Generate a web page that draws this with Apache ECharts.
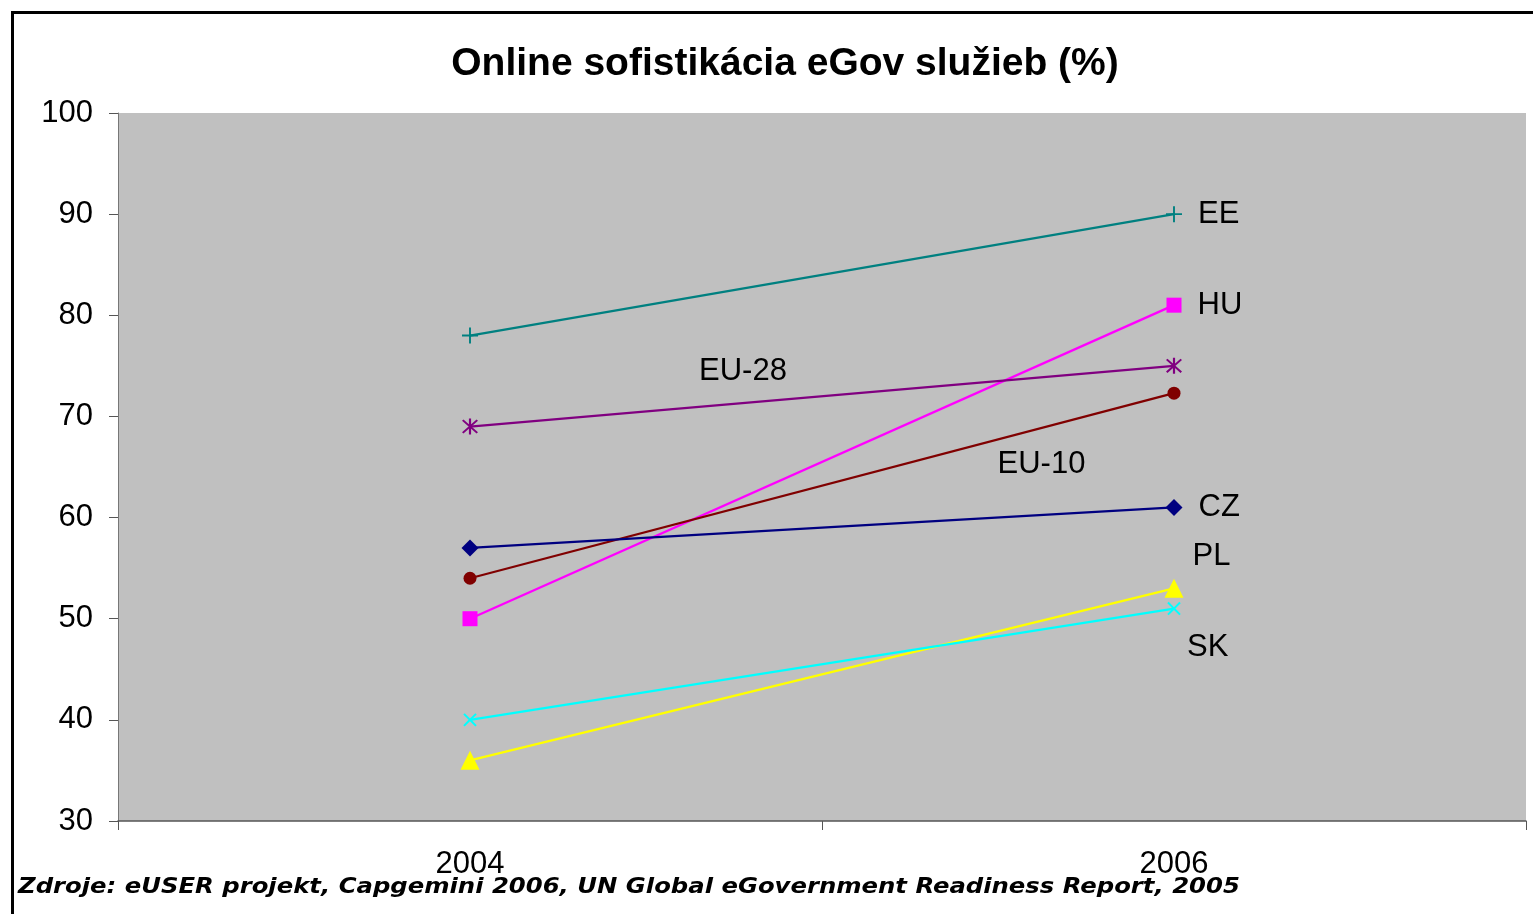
<!DOCTYPE html>
<html>
<head>
<meta charset="utf-8">
<script src="https://cdn.jsdelivr.net/npm/echarts@6/dist/echarts.min.js"></script>
<style>
  html, body { margin: 0; padding: 0; background: #fff; }
  #chart { width: 1533px; height: 914px; }
</style>
</head>
<body>
<div id="chart"></div>
<script>
// roky na osi x
var years = ['2004', '2006'];
// hodnoty odčítané z grafu (%)
var eeData = [78, 90];
var huData = [50, 81];
var eu28Data = [69, 75];
var eu10Data = [54, 72.3];
var czData = [57, 61];
var plData = [36, 53];
var skData = [40, 51];
var yTicks = { min: 30, max: 100, step: 10 };

// vlastné symboly (Excel štýl)
var plusPath = 'path://M4.4,0 L5.6,0 L5.6,4.4 L10,4.4 L10,5.6 L5.6,5.6 L5.6,10 L4.4,10 L4.4,5.6 L0,5.6 L0,4.4 L4.4,4.4 Z';
var starPath = 'path://M4.4,0 L5.6,0 L5.6,10 L4.4,10 Z M0.6,1.4 L1.4,0.6 L9.4,8.6 L8.6,9.4 Z M8.6,0.6 L9.4,1.4 L1.4,9.4 L0.6,8.6 Z';

var lblFont = { fontFamily: 'Liberation Sans', fontSize: 31, color: '#000' };

function lineSeries(name, data, color, symbol, size, label) {
  return {
    name: name,
    type: 'line',
    data: data.map(function (v, i) {
      var item = { value: v };
      if (label && i === label.idx) {
        item.label = Object.assign({
          show: true,
          formatter: name,
          position: 'right',
          distance: label.dist,
          offset: label.offset || [0, 0]
        }, lblFont);
      }
      return item;
    }),
    symbol: symbol,
    symbolSize: size,
    symbolRotate: label && label.rot ? label.rot : 0,
    showAllSymbol: true,
    lineStyle: { color: color, width: 2.3 },
    itemStyle: { color: color },
    emphasis: { disabled: true },
    z: 3
  };
}

var chart = echarts.init(document.getElementById('chart'));
var option = {
  animation: false,
  backgroundColor: '#fff',
  title: {
    text: 'Online sofistikácia eGov služieb (%)',
    left: 780,
    textAlign: 'center',
    top: 40,
    textStyle: { fontFamily: 'Liberation Sans', fontSize: 39, fontWeight: 'bold', color: '#000' }
  },
  grid: {
    left: 118, right: 7, top: 113, bottom: 93,
    show: true, backgroundColor: '#C0C0C0', borderWidth: 0
  },
  xAxis: {
    type: 'category',
    data: years,
    boundaryGap: true,
    axisLine: { lineStyle: { color: '#555', width: 1.5 } },
    axisTick: { show: true, length: 9, lineStyle: { color: '#555' } },
    axisLabel: { margin: 28, fontFamily: 'Liberation Sans', fontSize: 31, color: '#000' },
    splitLine: { show: false }
  },
  yAxis: {
    type: 'value',
    min: yTicks.min, max: yTicks.max, interval: yTicks.step,
    axisLine: { show: true, lineStyle: { color: '#777', width: 1 } },
    axisTick: { show: true, length: 9, lineStyle: { color: '#555' } },
    axisLabel: { margin: 25, fontFamily: 'Liberation Sans', fontSize: 31, color: '#000' },
    splitLine: { show: false }
  },
  series: [
    lineSeries('EE', eeData, '#008080', plusPath, 16, { idx: 1, dist: 16 }),
    lineSeries('HU', huData, '#FF00FF', 'rect', 15, { idx: 1, dist: 16 }),
    lineSeries('EU-28', eu28Data, '#800080', starPath, 16, { idx: 0, dist: 221, offset: [0, -55] }),
    lineSeries('EU-10', eu10Data, '#800000', 'circle', 13, { idx: 0, dist: 521, offset: [0, -114] }),
    lineSeries('CZ', czData, '#000080', 'diamond', 17, { idx: 1, dist: 16 }),
    lineSeries('PL', plData, '#FFFF00', 'triangle', 19, { idx: 1, dist: 9, offset: [0, -32] }),
    lineSeries('SK', skData, '#00FFFF', plusPath, 17, { idx: 1, dist: 1, offset: [0, 39], rot: 45 })
  ],
  graphic: [
    {
      type: 'rect',
      left: 10, top: 10,
      shape: { width: 1600, height: 1000 },
      style: { fill: 'none', stroke: '#000', lineWidth: 3 },
      z: 10
    },
    {
      type: 'text',
      x: 18, y: 876,
      scaleX: 1.105,
      style: {
        text: 'Zdroje: eUSER projekt, Capgemini 2006, UN Global eGovernment Readiness Report, 2005',
        font: 'italic bold 22px "DejaVu Sans"',
        fill: '#000'
      },
      z: 10
    }
  ]
};
chart.setOption(option);
</script>
</body>
</html>
